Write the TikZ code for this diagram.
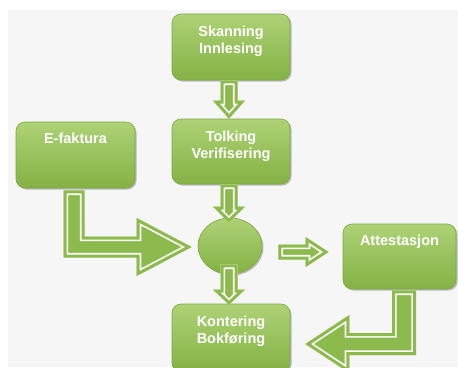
\documentclass[tikz,border=0pt]{standalone}
\usepackage{fontspec}
\setmainfont{Liberation Sans}
\usetikzlibrary{calc,shadows,shapes.geometric}
\definecolor{bg}{HTML}{F6F6F6}
\definecolor{arr}{HTML}{8DBA4D}
\definecolor{boxtop}{HTML}{ADD276}
\definecolor{boxbot}{HTML}{84B244}
\definecolor{boxline}{HTML}{7DA742}
\newcommand\blockarrow[1]{%
  \begin{scope}
    \clip #1;
    \fill[arr] #1;
    \draw[white, line width=9.4pt, line join=miter] #1;
    \draw[arr, line width=6pt, line join=miter] #1;
  \end{scope}}
\newcommand\downarr[3]{%
  \blockarrow{($(#1)+(-8.5,0)$) -- ($(#2)+(-8.5,-#3)$) -- ($(#2)+(-16,-#3)$) -- (#2) -- ($(#2)+(16,-#3)$) -- ($(#2)+(8.5,-#3)$) -- ($(#1)+(8.5,0)$) -- cycle}}
\begin{document}
\begin{tikzpicture}[x=1pt,y=-1pt,
  box/.style={draw=boxline, line width=0.6pt, rounded corners=9pt, top color=boxtop, bottom color=boxbot,
    minimum width=118pt, minimum height=66pt, inner sep=0pt,
    drop shadow={shadow xshift=1.5pt, shadow yshift=-1.5pt, opacity=0.35, fill=black!70}},
  lbl/.style={text=white, font=\bfseries\fontsize{14.5}{17}\selectfont, align=center, anchor=base, inner sep=0pt}]
\useasboundingbox (0,0) rectangle (458,367);
\fill[white] (0,0) rectangle (458,367);
\fill[bg] (8,10) rectangle (458,367);
% boxes
\node[box] (sk) at (231,47) {};
\node[box, minimum height=65pt] (tv) at (231,151.5) {};
\node[box, minimum width=119pt] (ef) at (75.5,155) {};
\node[box, minimum width=113pt, minimum height=65pt] (at) at (399.5,256.5) {};
\node[box, minimum height=68pt] (kb) at (231,338) {};
\node[ellipse, draw=boxline, line width=0.6pt, top color=boxtop, bottom color=boxbot,
  minimum width=64pt, minimum height=56pt, inner sep=0pt,
  drop shadow={shadow xshift=1.5pt, shadow yshift=-1.5pt, opacity=0.35, fill=black!70}] (ci) at (230,246) {};
% labels (base anchor = baseline of last line)
\node[lbl] (skt) at ($(sk.north)+(0,39.5)$) {Skanning\\Innlesing};
\node[lbl] (tvt) at ($(tv.north)+(0,40)$) {Tolking\\Verifisering};
\node[lbl] (eft) at ($(ef.north)+(0,22)$) {E-faktura};
\node[lbl] (att) at ($(at.north)+(0,22)$) {Attestasjon};
\node[lbl] (kbt) at ($(kb.north)+(0,40)$) {Kontering\\Bokføring};
% arrow anchors
\coordinate (a1s) at ($(sk.south)+(-2,0)$);
\coordinate (a1t) at ($(tv.north)+(-2,0)$);
\coordinate (a2s) at ($(tv.south)+(-2,0)$);
\coordinate (a2t) at ($(ci.north)+(-1,5)$);
\coordinate (a3s) at ($(ci.south)+(-1,-10)$);
\coordinate (a3t) at ($(kb.north)+(-2,1)$);
\coordinate (a4s) at ($(ci.east)+(16,6)$);
\coordinate (a4t) at ($(at.west)+(-14,-4.5)$);
\coordinate (a5s) at ($(ef.south)+(-1.5,2)$);
\coordinate (a5t) at ($(ci.west)+(-6,1)$);
\coordinate (a6s) at ($(at.south)+(4.5,1)$);
\coordinate (a6t) at ($(kb.east)+(15,6)$);
% arrows
\downarr{a1s}{a1t}{18}
\downarr{a2s}{a2t}{16}
\downarr{a3s}{a3t}{15}
\blockarrow{($(a4s)+(0,-7.5)$) -- ($(a4t)+(-23,-7.5)$) -- ($(a4t)+(-23,-15)$) -- (a4t) -- ($(a4t)+(-23,15)$) -- ($(a4t)+(-23,7.5)$) -- ($(a4s)+(0,7.5)$) -- cycle}
\blockarrow{($(a5s)+(-10.5,0)$) -- ($(a5s|-a5t)+(-10.5,10.5)$) -- ($(a5t)+(-55,10.5)$) -- ($(a5t)+(-55,29)$) -- (a5t) -- ($(a5t)+(-55,-29)$) -- ($(a5t)+(-55,-10.5)$) -- ($(a5s|-a5t)+(10.5,-10.5)$) -- ($(a5s)+(10.5,0)$) -- cycle}
\blockarrow{($(a6s)+(-12,0)$) -- ($(a6s|-a6t)+(-12,-11)$) -- ($(a6t)+(44,-11)$) -- ($(a6t)+(44,-29)$) -- (a6t) -- ($(a6t)+(44,29)$) -- ($(a6t)+(44,11)$) -- ($(a6s|-a6t)+(12,11)$) -- ($(a6s)+(12,0)$) -- cycle}
\end{tikzpicture}
\end{document}
